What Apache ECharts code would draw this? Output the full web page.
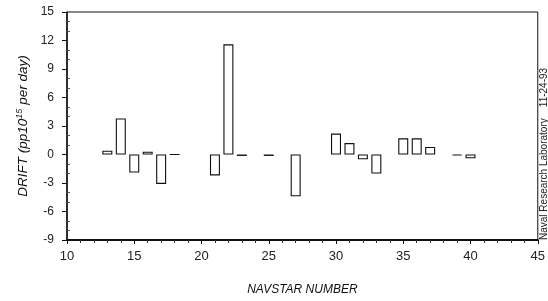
<!DOCTYPE html>
<html>
<head>
<meta charset="utf-8">
<script src="https://cdn.jsdelivr.net/npm/echarts@6/dist/echarts.min.js"></script>
<style>
  html, body { margin: 0; padding: 0; background: #fff; }
  #main { width: 548px; height: 301px; }
</style>
</head>
<body>
<div id="main"></div>
<script>
// satellites (NAVSTAR number) and their clock drift
var satellites = [13, 14, 15, 16, 17, 18, 21, 22, 23, 25, 27, 30, 31, 32, 33, 35, 36, 37, 39, 40];
var drift = [0.4, 3.8, -1.9, 0.3, -3.1, 0, -2.2, 11.6, -0.15, -0.15, -4.4, 2.2, 1.2, -0.5, -2.0, 1.7, 1.7, 0.8, -0.1, -0.4];
var xTicks = [10, 15, 20, 25, 30, 35, 40, 45];
var yTicks = [-9, -6, -3, 0, 3, 6, 9, 12, 15];

var font = "Liberation Sans";
var chart = echarts.init(document.getElementById("main"));

var barData = satellites.map(function (s, i) {
  return [s, drift[i]];
});

var option = {
  animation: false,
  backgroundColor: "#fff",
  grid: {
    left: 67,
    right: 10,
    top: 12,
    bottom: 60,
    show: true,
    borderColor: "#111",
    borderWidth: 1,
  },
  xAxis: {
    type: "value",
    min: xTicks[0],
    max: xTicks[xTicks.length - 1],
    interval: 5,
    name: "NAVSTAR NUMBER",
    nameLocation: "middle",
    nameGap: 44,
    nameTextStyle: { fontFamily: font, fontSize: 12, fontStyle: "italic", color: "#111" },
    axisLine: { onZero: false, lineStyle: { color: "#111", width: 2 } },
    axisTick: { length: 4, lineStyle: { color: "#111" } },
    minorTick: { show: true, splitNumber: 5, length: 3, lineStyle: { color: "#333" } },
    axisLabel: { fontFamily: font, fontSize: 13, color: "#222", margin: 10 },
    splitLine: { show: false },
  },
  yAxis: {
    type: "value",
    min: yTicks[0],
    max: yTicks[yTicks.length - 1],
    interval: 3,
    name: "{t|DRIFT (pp10}{sup|15}{t| per day)}",
    nameLocation: "middle",
    nameGap: 34,
    nameTextStyle: {
      rich: {
        t: { fontFamily: font, fontSize: 13.5, fontStyle: "italic", color: "#111" },
        sup: { fontFamily: font, fontSize: 9, fontStyle: "italic", color: "#111", verticalAlign: "top", padding: [0, 0, 7, 0] },
      },
    },
    axisLine: { onZero: false, lineStyle: { color: "#111", width: 1.5 } },
    axisTick: { length: 5, lineStyle: { color: "#111" } },
    minorTick: { show: true, splitNumber: 3, length: -3, lineStyle: { color: "#555" } },
    axisLabel: { fontFamily: font, fontSize: 12, color: "#222", margin: 13 },
    splitLine: { show: false },
  },
  series: [
    {
      type: "bar",
      data: barData,
      barWidth: 10,
      itemStyle: { color: "#fff", borderColor: "#111", borderWidth: 1.1 },
    },
  ],
  graphic: [
    {
      type: "text",
      x: 544,
      y: 240,
      rotation: Math.PI / 2,
      style: {
        text: "Naval Research Laboratory    11-24-93",
        fontFamily: font,
        fontSize: 10,
        fill: "#222",
        align: "left",
        verticalAlign: "middle",
      },
    },
  ],
};

chart.setOption(option);
</script>
</body>
</html>
